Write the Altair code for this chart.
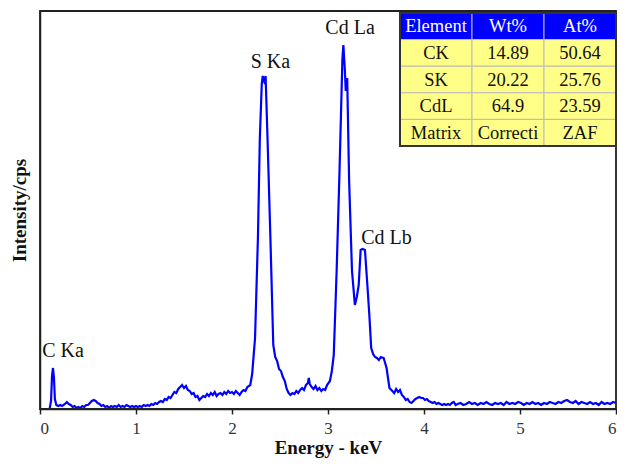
import altair as alt
import pandas as pd

# ---- spectrum (keV, counts) ----
energy = [0.00, 0.05, 0.10, 0.115, 0.125, 0.135, 0.145, 0.155, 0.17, 0.19, 0.21, 0.23, 0.26, 0.28, 0.30,
          0.32, 0.34, 0.36, 0.38, 0.40, 0.42, 0.44, 0.46, 0.48, 0.50, 0.52, 0.54, 0.56, 0.58, 0.60,
          0.62, 0.64, 0.66, 0.68, 0.70, 0.72, 0.74, 0.76, 0.78, 0.80, 0.82, 0.84, 0.86, 0.88, 0.90,
          0.92, 0.94, 0.96, 0.98, 1.00, 1.02, 1.04, 1.06, 1.08, 1.10, 1.12, 1.14, 1.16, 1.18, 1.20,
          1.22, 1.24, 1.26, 1.28, 1.30, 1.32, 1.34, 1.36, 1.38, 1.40, 1.42, 1.44, 1.46, 1.48, 1.50,
          1.52, 1.54, 1.56, 1.58, 1.60, 1.62, 1.64, 1.66, 1.68, 1.70, 1.72, 1.74, 1.76, 1.78, 1.80,
          1.82, 1.84, 1.86, 1.88, 1.90, 1.92, 1.94, 1.96, 1.98, 2.00, 2.02, 2.04, 2.06, 2.08, 2.10,
          2.12, 2.14, 2.16, 2.19, 2.21, 2.24, 2.27, 2.29, 2.31, 2.32, 2.335, 2.35, 2.37, 2.40, 2.43,
          2.45, 2.47, 2.49, 2.51, 2.53, 2.55, 2.57, 2.59, 2.61, 2.63, 2.65, 2.67, 2.69, 2.71, 2.73,
          2.75, 2.77, 2.79, 2.80, 2.81, 2.83, 2.85, 2.87, 2.89, 2.91, 2.93, 2.95, 2.97, 2.99, 3.02,
          3.04, 3.06, 3.09, 3.12, 3.15, 3.16, 3.175, 3.185, 3.20, 3.22, 3.25, 3.28, 3.30, 3.32, 3.34,
          3.36, 3.385, 3.41, 3.43, 3.45, 3.47, 3.49, 3.51, 3.53, 3.55, 3.58, 3.61, 3.64, 3.67, 3.69,
          3.71, 3.73, 3.75, 3.77, 3.79, 3.81, 3.83, 3.85, 3.87, 3.89, 3.91, 3.93, 3.95, 3.97, 3.99,
          4.01, 4.03, 4.05, 4.07, 4.09, 4.11, 4.13, 4.15, 4.17, 4.19, 4.21, 4.23, 4.25, 4.27, 4.29,
          4.31, 4.33, 4.35, 4.38, 4.41, 4.44, 4.47, 4.50, 4.53, 4.56, 4.59, 4.62, 4.65, 4.68, 4.71,
          4.74, 4.77, 4.80, 4.83, 4.86, 4.89, 4.92, 4.95, 4.98, 5.01, 5.04, 5.07, 5.10, 5.13, 5.16,
          5.19, 5.22, 5.25, 5.28, 5.31, 5.34, 5.37, 5.40, 5.43, 5.46, 5.49, 5.52, 5.55, 5.58, 5.61,
          5.64, 5.67, 5.70, 5.73, 5.76, 5.79, 5.82, 5.85, 5.88, 5.91, 5.94, 5.97, 6.00]
counts = [0, 0, 0, 8, 33, 41, 32, 10, 4, 3, 4, 3, 5, 7, 5,
          4, 2, 3, 1, 2, 1, 3, 2, 4, 4, 6, 8, 9, 8, 6,
          5, 3, 4, 2, 3, 1, 3, 2, 3, 2, 4, 2, 3, 2, 4,
          3, 2, 3, 2, 3, 2, 3, 2, 4, 3, 4, 3, 5, 4, 6,
          5, 7, 8, 7, 10, 9, 12, 11, 14, 17, 16, 20, 22, 24, 21,
          23, 19, 18, 15, 16, 12, 13, 9, 11, 13, 12, 15, 13, 16, 14,
          17, 13, 15, 16, 14, 17, 15, 18, 16, 17, 15, 18, 16, 14, 17,
          19, 18, 22, 24, 35, 71, 171, 271, 325, 333, 328, 333, 271, 171, 64,
          52, 48, 40, 38, 32, 28, 20, 16, 14, 16, 15, 18, 16, 19, 21,
          19, 24, 26, 31, 25, 22, 20, 23, 19, 21, 18, 20, 19, 24, 28,
          38, 54, 138, 238, 350, 364, 340, 318, 331, 228, 138, 104, 112, 124, 159,
          160, 159, 124, 95, 61, 55, 52, 51, 49, 52, 51, 41, 21, 18, 16,
          20, 17, 19, 14, 12, 9, 10, 7, 6, 8, 10, 11, 12, 11, 11,
          9, 10, 8, 7, 6, 7, 5, 6, 5, 4, 5, 4, 5, 4, 6,
          7, 4, 5, 6, 4, 5, 7, 5, 6, 4, 6, 5, 7, 5, 4,
          6, 5, 6, 4, 7, 5, 6, 5, 7, 6, 4, 6, 5, 7, 5,
          6, 4, 6, 5, 7, 6, 5, 7, 6, 8, 9, 7, 6, 8, 5,
          7, 6, 5, 7, 5, 6, 4, 7, 5, 6, 5, 7, 6]

# ---- peak labels ----
peak_names = ["C Ka", "S Ka", "Cd La", "Cd Lb"]
peak_energy = [0.24, 2.40, 3.23, 3.61]
peak_level = [58, 347, 381, 171]

# ---- quantification table ----
table_cols = ["Element", "Wt%", "At%"]
table_rows = ["Element", "CK", "SK", "CdL", "Matrix"]
table_cells = [
    ["Element", "Wt%", "At%"],
    ["CK", "14.89", "50.64"],
    ["SK", "20.22", "25.76"],
    ["CdL", "64.9", "23.59"],
    ["Matrix", "Correcti", "ZAF"],
]

FONT = "Liberation Serif"
W, H = 576, 398

spec = pd.DataFrame({"energy": energy, "counts": counts})
peaks = pd.DataFrame({"name": peak_names, "energy": peak_energy, "level": peak_level})
cells = pd.DataFrame([
    {"row": table_rows[i], "col": table_cols[j], "text": table_cells[i][j]}
    for i in range(len(table_rows)) for j in range(len(table_cols))
])

xs = alt.Scale(domain=[0, 6], nice=False, zero=False)
ys = alt.Scale(domain=[0, 398], nice=False)

xaxis = alt.Axis(values=[0, 1, 2, 3, 4, 5, 6], format="d", grid=False,
                 tickSize=5, tickColor="#222", tickWidth=1.5, domainColor="#222", domainWidth=1.5,
                 labelFont=FONT, labelFontSize=17, labelColor="#333",
                 labelPadding=6, titleFont=FONT, titleFontSize=19,
                 titleFontWeight="bold", titleColor="#111", titlePadding=2)
yaxis = alt.Axis(labels=False, ticks=False, grid=False, domainColor="#222", domainWidth=1.5,
                 titleFont=FONT, titleFontSize=19, titleFontWeight="bold",
                 titleColor="#111", titlePadding=11)

line = alt.Chart(spec).mark_line(color="#0000FF", strokeWidth=2.2).encode(
    x=alt.X("energy:Q", scale=xs, title="Energy - keV", axis=xaxis),
    y=alt.Y("counts:Q", scale=ys, title="Intensity/cps", axis=yaxis),
)

labels = alt.Chart(peaks).mark_text(font=FONT, fontSize=20, color="#111").encode(
    x=alt.X("energy:Q", scale=xs, title="Energy - keV", axis=xaxis),
    y=alt.Y("level:Q", scale=ys, title="Intensity/cps", axis=yaxis),
    text="name:N",
)

frame = alt.Chart(pd.DataFrame({"a": [0]})).mark_rect(
    fill=None, stroke="#222222", strokeWidth=1.8
).encode(x=alt.value(0), x2=alt.value(W), y=alt.value(0), y2=alt.value(H))

tx = alt.Scale(domain=table_cols, range=[360, W], paddingInner=0, paddingOuter=0)
ty = alt.Scale(domain=table_rows, range=[2, 135], paddingInner=0, paddingOuter=0)

rects = alt.Chart(cells).mark_rect(stroke="#BBBBBB", strokeWidth=1).encode(
    x=alt.X("col:N", scale=tx, axis=None, sort=table_cols),
    y=alt.Y("row:N", scale=ty, axis=None, sort=table_rows),
    fill=alt.condition(alt.datum.row == "Element", alt.value("#0000FF"), alt.value("#FFFF88")),
)
texts = alt.Chart(cells).mark_text(font=FONT, fontSize=18.5).encode(
    x=alt.X("col:N", scale=tx, axis=None, sort=table_cols),
    y=alt.Y("row:N", scale=ty, axis=None, sort=table_rows),
    text="text:N",
    color=alt.condition(alt.datum.row == "Element", alt.value("#FFFFFF"), alt.value("#111111")),
)
border = alt.Chart(pd.DataFrame({"a": [0]})).mark_rect(
    fill=None, stroke="#333333", strokeWidth=2
).encode(x=alt.value(360), x2=alt.value(W), y=alt.value(2), y2=alt.value(135))

chart = alt.layer(
    alt.layer(line, labels),
    frame,
    alt.layer(rects, texts, border),
).resolve_scale(x="independent", y="independent").properties(
    width=W, height=H,
    autosize=alt.AutoSizeParams(type="none"),
    padding={"left": 32, "top": 3, "right": 1, "bottom": 49},
).configure_view(stroke=None).configure(background="white")

chart.save("out.html", embed_options={"renderer": "svg", "actions": False})
